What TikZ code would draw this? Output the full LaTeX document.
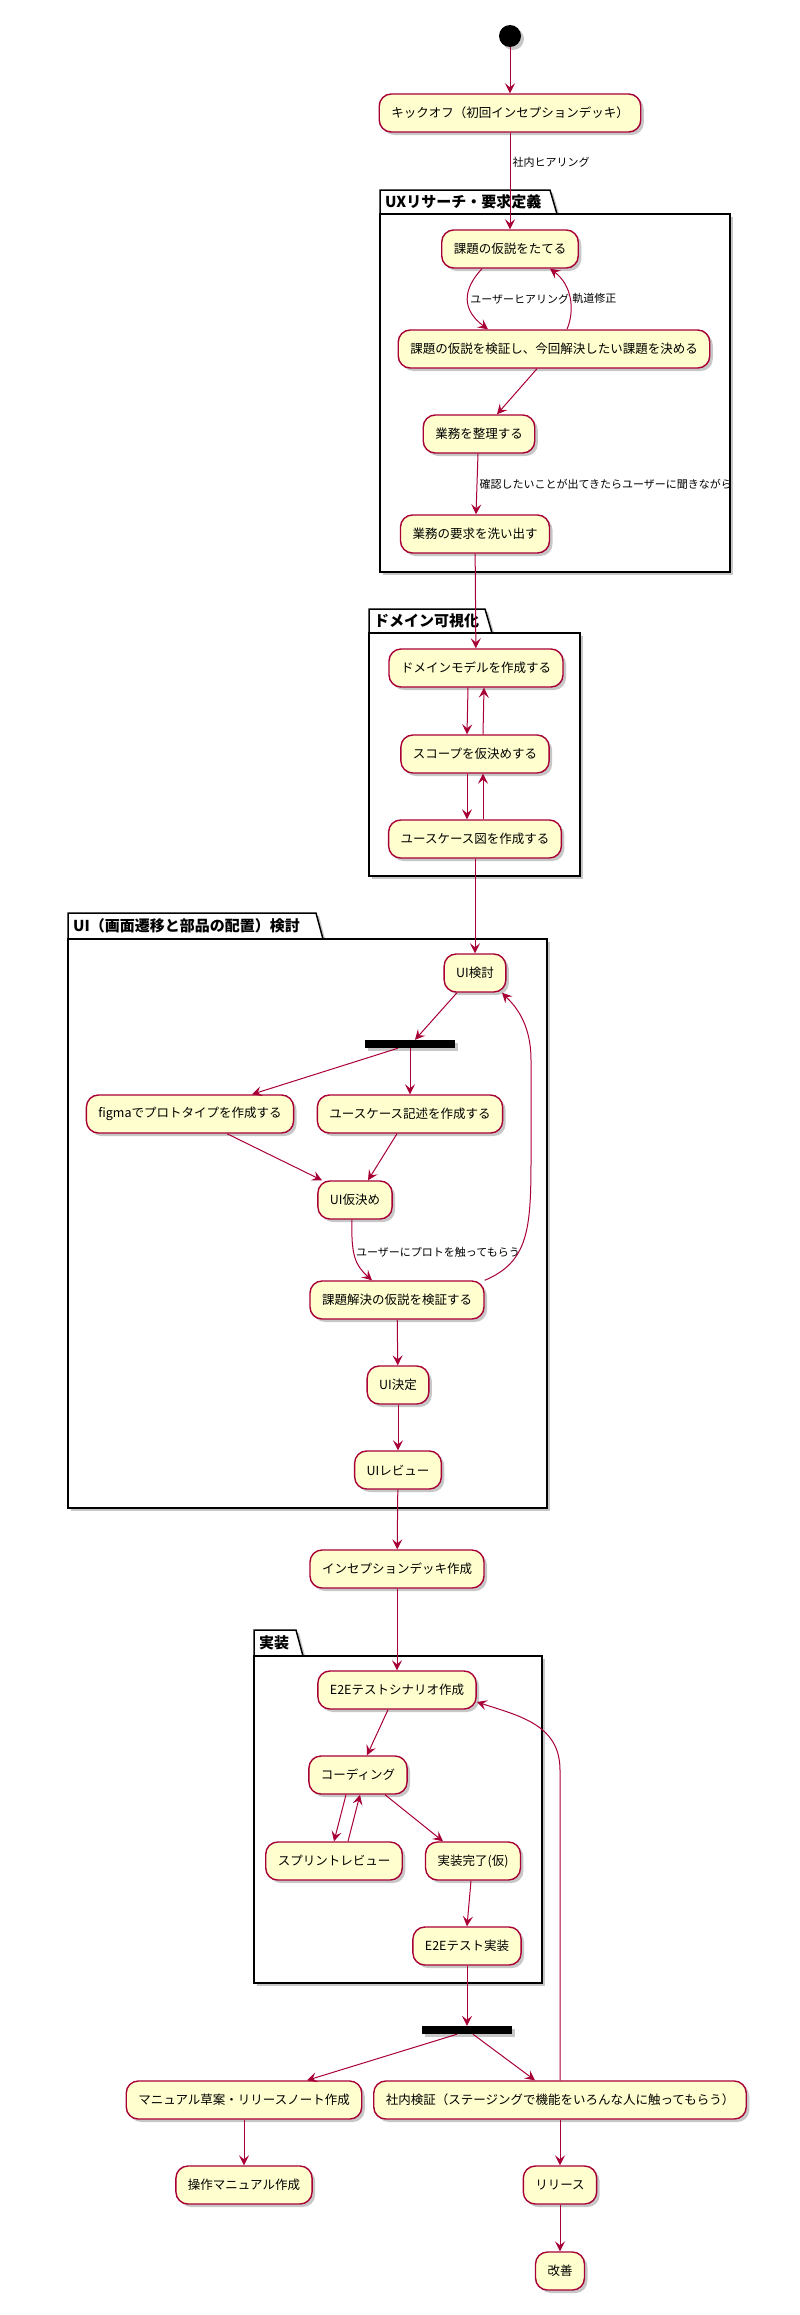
\documentclass[tikz,border=0pt]{standalone}
\usepackage{fontspec}
\setmainfont{Noto Sans CJK JP}
\usepackage{tikz}
\usetikzlibrary{positioning, arrows.meta, shadows}
\definecolor{umlred}{HTML}{A80036}
\definecolor{umlyellow}{HTML}{FEFECE}
\tikzset{
  umlshadow/.style={drop shadow={shadow xshift=3pt, shadow yshift=-3pt, opacity=.22, fill=black}},
  action/.style={draw=umlred, fill=umlyellow, line width=1.4pt, rounded corners=12pt,
    minimum height=38pt, inner xsep=12pt, font=\fontsize{12.5}{14}\selectfont, umlshadow},
  startdot/.style={circle, fill=black, minimum size=22pt, inner sep=0pt, umlshadow},
  forkbar/.style={fill=black, minimum width=90pt, minimum height=8pt, inner sep=0pt, umlshadow},
  flow/.style={draw=umlred, line width=1pt, -{Stealth[length=10pt, width=10pt, inset=4pt]}},
  flowlabel/.style={font=\fontsize{11}{13}\selectfont, inner sep=2pt},
  pkg/.style={draw=black, line width=1.5pt, fill=white, umlshadow},
  pkgtitle/.style={font=\fontsize{15}{17}\selectfont\bfseries, anchor=west, inner sep=2pt}
}

\begin{document}
\begin{tikzpicture}[x=1pt, y=-1pt]
  \useasboundingbox (0,0) rectangle (800,2315);

  % packages
  \draw[pkg] (380,214) -- (380,190) -- (550,190) -- (557,214) -- cycle;
  \draw[pkg] (380,214) rectangle (730,572);
  \node[pkgtitle] (uxtitle) at (383,202) {UXリサーチ・要求定義};

  \draw[pkg] (369,633) -- (369,609) -- (485,609) -- (492,633) -- cycle;
  \draw[pkg] (369,633) rectangle (580,876);
  \node[pkgtitle] (domaintitle) at (372,621) {ドメイン可視化};

  \draw[pkg] (68,939) -- (68,913) -- (316,913) -- (323,939) -- cycle;
  \draw[pkg] (68,939) rectangle (547,1508);
  \node[pkgtitle] (uititle) at (71,926) {UI（画面遷移と部品の配置）検討};

  \draw[pkg] (254,1656) -- (254,1630) -- (296,1630) -- (303,1656) -- cycle;
  \draw[pkg] (254,1656) rectangle (542,1983);
  \node[pkgtitle] (impltitle) at (257,1643) {実装};

  % actions
  \node[startdot] (start) at (510,36) {};
  \node[action] (kickoff) at (510,113) {キックオフ（初回インセプションデッキ）};

  \node[action] (hypo) at (510,249) {課題の仮説をたてる};
  \node[action] (verify) at (554,349) {課題の仮説を検証し、今回解決したい課題を決める};
  \node[action] (organize) at (479,434) {業務を整理する};
  \node[action] (needs) at (475,534) {業務の要求を洗い出す};

  \node[action] (dmodel) at (476,668) {ドメインモデルを作成する};
  \node[action] (scope) at (475,754) {スコープを仮決めする};
  \node[action] (ucd) at (475,839) {ユースケース図を作成する};

  \node[action] (uicheck) at (475,973) {UI検討};
  \node[forkbar] (fork1) at (410,1044) {};
  \node[action] (figma) at (190,1114) {figmaでプロトタイプを作成する};
  \node[action] (ucdesc) at (410,1114) {ユースケース記述を作成する};
  \node[action] (uitemp) at (355,1200) {UI仮決め};
  \node[action] (solve) at (397,1300) {課題解決の仮説を検証する};
  \node[action] (uifix) at (398,1385) {UI決定};
  \node[action] (uireview) at (398,1470) {UIレビュー};

  \node[action] (deck) at (397,1569) {インセプションデッキ作成};

  \node[action] (scenario) at (397,1690) {E2Eテストシナリオ作成};
  \node[action] (coding) at (358,1775) {コーディング};
  \node[action] (sprint) at (334,1861) {スプリントレビュー};
  \node[action] (impl) at (473,1861) {実装完了(仮)};
  \node[action] (e2e) at (467,1946) {E2Eテスト実装};

  \node[forkbar] (fork2) at (467,2030) {};
  \node[action] (manual) at (244,2100) {マニュアル草案・リリースノート作成};
  \node[action] (internal) at (560,2100) {社内検証（ステージングで機能をいろんな人に触ってもらう）};
  \node[action] (opman) at (244,2185) {操作マニュアル作成};
  \node[action] (release) at (560,2185) {リリース};
  \node[action] (kaizen) at (560,2271) {改善};

  % connectors
  \draw[flow] (start) -- (kickoff);
  \draw[flow] (kickoff) -- node[flowlabel, right, pos=.31] {社内ヒアリング} (hypo);

  \draw[flow] ([xshift=-28pt]hypo.south) .. controls (462,290) and (462,310) .. ([xshift=-66pt]verify.north)
    node[flowlabel, right, pos=.5] {ユーザーヒアリング};
  \draw[flow] ([xshift=13pt]verify.north) .. controls (575,310) and (572,285) .. ([xshift=40pt]hypo.south)
    node[flowlabel, right, pos=.5] {軌道修正};
  \draw[flow] ([xshift=-17pt]verify.south) -- ([xshift=18pt]organize.north);
  \draw[flow] ([xshift=-1pt]organize.south) -- node[flowlabel, right] {確認したいことが出てきたらユーザーに聞きながら} ([xshift=1pt]needs.north);
  \draw[flow] (needs) -- (dmodel);

  \draw[flow] ([xshift=-8pt]dmodel.south) -- ([xshift=-8pt]scope.north);
  \draw[flow] ([xshift=8pt]scope.north) -- ([xshift=8pt]dmodel.south);
  \draw[flow] ([xshift=-8pt]scope.south) -- ([xshift=-8pt]ucd.north);
  \draw[flow] ([xshift=8pt]ucd.north) -- ([xshift=8pt]scope.south);
  \draw[flow] (ucd) -- (uicheck);

  \draw[flow] ([xshift=-18pt]uicheck.south) -- ([xshift=5pt]fork1.north);
  \draw[flow] ([xshift=-12pt]fork1.south) -- ([xshift=62pt]figma.north);
  \draw[flow] (fork1) -- (ucdesc);
  \draw[flow] ([xshift=37pt]figma.south) -- ([xshift=-33pt]uitemp.north);
  \draw[flow] ([xshift=-13pt]ucdesc.south) -- ([xshift=13pt]uitemp.north);
  \draw[flow] ([xshift=-3pt]uitemp.south) .. controls (351,1255) and (355,1265) .. ([xshift=-25pt]solve.north)
    node[flowlabel, right, pos=.4] {ユーザーにプロトを触ってもらう};
  \draw[flow] (solve.north east) .. controls (528,1262) and (531,1230) .. (531,1160) -- (531,1060)
    .. controls (531,1020) and (512,1003) .. ([xshift=27pt]uicheck.south);
  \draw[flow] (solve) -- (uifix);
  \draw[flow] (uifix) -- (uireview);
  \draw[flow] (uireview) -- (deck);
  \draw[flow] (deck) -- (scenario);

  \draw[flow] ([xshift=-9pt]scenario.south) -- ([xshift=9pt]coding.north);
  \draw[flow] ([xshift=-12pt]coding.south) -- (sprint.north);
  \draw[flow] ([xshift=14pt]sprint.north) -- ([xshift=2pt]coding.south);
  \draw[flow] ([xshift=27pt]coding.south) -- ([xshift=-30pt]impl.north);
  \draw[flow] ([xshift=-2pt]impl.south) -- (e2e.north);
  \draw[flow] (e2e) -- (fork2);

  \draw[flow] ([xshift=-10pt]fork2.south) -- ([xshift=63pt]manual.north);
  \draw[flow] ([xshift=6pt]fork2.south) -- ([xshift=-25pt]internal.north);
  \draw[flow] (internal.north) -- (560,1770) .. controls (560,1725) and (520,1716) .. ([yshift=-12pt]scenario.east);
  \draw[flow] (manual) -- (opman);
  \draw[flow] (internal) -- (release);
  \draw[flow] (release) -- (kaizen);
\end{tikzpicture}
\end{document}
